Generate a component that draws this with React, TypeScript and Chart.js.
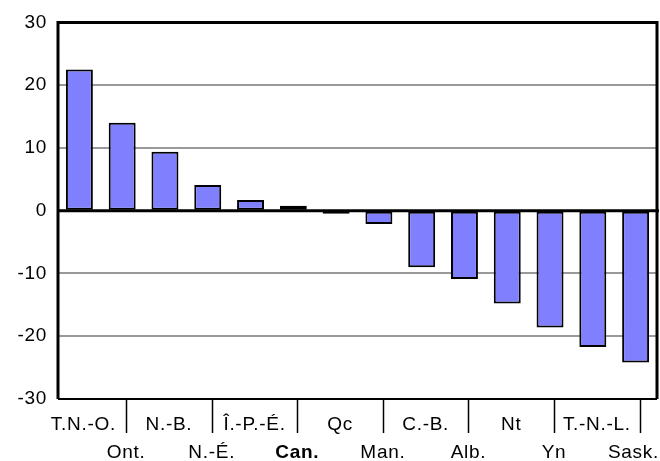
import React, { useEffect, useRef } from "react";
import { Chart, registerables } from "chart.js";

Chart.register(...registerables);

const categories = ["T.N.-O.", "Ont.", "N.-B.", "N.-É.", "Î.-P.-É.", "Can.", "Qc", "Man.", "C.-B.", "Alb.", "Nt", "Yn", "T.-N.-L.", "Sask."];
const values = [22.5, 14.0, 9.4, 4.1, 1.7, 0.8, -0.5, -2.1, -9.0, -10.9, -14.8, -18.6, -21.7, -24.2];
const highlight = "Can.";
const yTicks = [-30, -20, -10, 0, 10, 20, 30];

const FONT = "'Liberation Sans Narrow', 'Liberation Sans', Arial, sans-serif";

const framePlugin = {
  id: "frame",
  beforeDraw(chart: any) {
    (chart.ctx as any).letterSpacing = "0.7px";
    const xs = chart.scales.x;
    if (xs && typeof xs.getLabelItems === "function") {
      const items = xs.getLabelItems(chart.chartArea);
      const last = items[items.length - 1];
      if (last && last.options) {
        last.options.textAlign = "right";
        last.options.translation = [chart.width - 1, last.options.translation[1]];
      }
    }
  },
  afterDatasetsDraw(chart: any) {
    const ctx = chart.ctx;
    const { left, right, top, bottom } = chart.chartArea;
    const y0 = chart.scales.y.getPixelForValue(0);
    ctx.save();
    ctx.strokeStyle = "#000";
    ctx.lineWidth = 3;
    ctx.beginPath();
    ctx.moveTo(left, y0);
    ctx.lineTo(right + 2, y0);
    ctx.stroke();
    ctx.beginPath();
    ctx.moveTo(left, bottom);
    ctx.lineTo(left, top);
    ctx.lineTo(right, top);
    ctx.lineTo(right, bottom);
    ctx.stroke();
    ctx.lineWidth = 2;
    ctx.beginPath();
    ctx.moveTo(left, bottom);
    ctx.lineTo(right, bottom);
    ctx.stroke();
    const xs = chart.scales.x;
    for (let i = 1; i < categories.length; i += 2) {
      const x = Math.round(xs.getPixelForValue(i) + 4) + 0.5;
      ctx.beginPath();
      ctx.moveTo(x, bottom);
      ctx.lineTo(x, bottom + 34);
      ctx.lineWidth = 1.5;
      ctx.stroke();
    }
    ctx.restore();
  },
};

export default function App() {
  const ref = useRef<HTMLCanvasElement>(null);
  useEffect(() => {
    document.body.style.margin = "0";
    const labels = categories.map((c, i) => (i % 2 === 0 ? [c, ""] : ["", c]));
    const chart = new Chart(ref.current!, {
      type: "bar",
      data: {
        labels,
        datasets: [
          {
            data: values,
            backgroundColor: categories.map((c) => (c === highlight ? "#FF8080" : "#8080FF")),
            borderColor: "#000",
            borderWidth: 2,
            borderSkipped: false,
            categoryPercentage: 1,
            barPercentage: 0.63,
          },
        ],
      },
      options: {
        responsive: false,
        animation: false,
        devicePixelRatio: 1,
        layout: { padding: { top: 17, right: 3, left: 0, bottom: 0 } },
        plugins: { legend: { display: false }, tooltip: { enabled: false } },
        scales: {
          x: {
            grid: { display: false },
            border: { display: false },
            ticks: {
              autoSkip: false,
              maxRotation: 0,
              minRotation: 0,
              labelOffset: 4,
              padding: 4,
              color: "#000",
              font: (ctx: any) => ({
                family: FONT,
                size: 19,
                lineHeight: 1.45,
                weight: categories[ctx.index] === highlight ? "bold" : "normal",
              }),
            },
            afterFit: (s: any) => {
              s.height = 62;
              s.paddingLeft = 0;
              s.paddingRight = 0;
            },
          },
          y: {
            min: -30,
            max: 30,
            afterBuildTicks: (s: any) => {
              s.ticks = yTicks.map((v) => ({ value: v }));
            },
            grid: {
              drawTicks: false,
              lineWidth: 2,
              color: (ctx: any) => {
                const v = ctx.tick?.value;
                return v === 0 || v === 30 || v === -30 ? "rgba(0,0,0,0)" : "#999999";
              },
            },
            border: { display: false },
            ticks: {
              padding: 11,
              color: "#000",
              font: { family: FONT, size: 19 },
            },
            afterFit: (s: any) => {
              s.width = 58;
            },
          },
        },
      },
      plugins: [framePlugin],
    });
    return () => chart.destroy();
  }, []);
  return <canvas ref={ref} width={660} height={461} style={{ display: "block" }} />;
}
